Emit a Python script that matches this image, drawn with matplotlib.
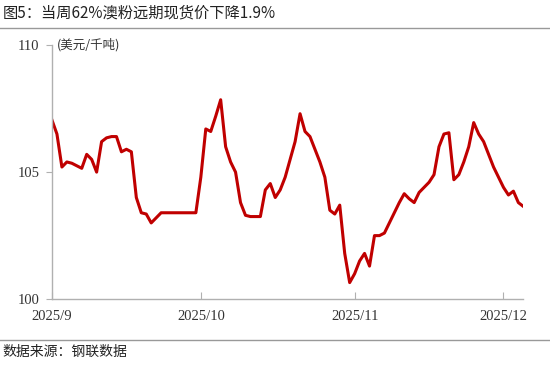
import matplotlib.pyplot as plt
import matplotlib.dates as mdates
import pandas as pd

plt.rcParams['font.family'] = ['Noto Sans CJK SC', 'DejaVu Sans']

# daily prices, USD/t
start = "2025-09-01"
prices = [
    107.05, 106.5, 105.2, 105.4, 105.35, 105.25, 105.15, 105.7, 105.5, 105.0,   # Sep 1-10
    106.2, 106.35, 106.4, 106.4, 105.8, 105.9, 105.8, 104.0, 103.4, 103.35,    # Sep 11-20
    103.0, 103.2, 103.4, 103.4, 103.4, 103.4, 103.4, 103.4, 103.4, 103.4,      # Sep 21-30
    104.8, 106.7, 106.6, 107.2, 107.85, 106.0, 105.4, 105.0, 103.8, 103.3,     # Oct 1-10
    103.25, 103.25, 103.25, 104.3, 104.55, 104.0, 104.3, 104.8, 105.5, 106.2,  # Oct 11-20
    107.3, 106.6, 106.4, 105.9, 105.4, 104.8, 103.5, 103.35, 103.7, 101.8,     # Oct 21-30
    100.65,                                                                     # Oct 31
    101.0, 101.5, 101.8, 101.3, 102.5, 102.5, 102.6, 103.0, 103.4, 103.8,      # Nov 1-10
    104.15, 103.95, 103.8, 104.2, 104.4, 104.6, 104.9, 106.0, 106.5, 106.55,   # Nov 11-20
    104.7, 104.9, 105.4, 106.0, 106.95, 106.5, 106.2, 105.7, 105.2, 104.8,     # Nov 21-30
    104.4, 104.1, 104.25, 103.8, 103.65,                                        # Dec 1-5
]
dates = pd.date_range(start, periods=len(prices), freq="D")

tick_dates = pd.to_datetime(["2025-09-01", "2025-10-01", "2025-11-01", "2025-12-01"])
tick_labels = ["2025/9", "2025/10", "2025/11", "2025/12"]
y_ticks = [100, 105, 110]

title = "图5：当周62%澳粉远期现货价下降1.9%"
unit = "(美元/千吨)"
source = "数据来源：钢联数据"

fig = plt.figure(figsize=(5.5, 3.67), dpi=100)
ax = fig.add_axes([0.0945, 0.185, 0.857, 0.692])

ax.plot(dates, prices, color="#C00000", lw=2.2, solid_joinstyle="round")

ax.set_xlim(dates[0], dates[-1])
ax.set_ylim(100, 110)
ax.set_xticks(tick_dates)
ax.set_xticklabels(tick_labels, family="Liberation Serif", fontsize=10.5)
ax.set_yticks(y_ticks)
ax.set_yticklabels([str(v) for v in y_ticks], family="Liberation Serif", fontsize=10.5)

for s in ["top", "right"]:
    ax.spines[s].set_visible(False)
for s in ["left", "bottom"]:
    ax.spines[s].set_color("#b0b0b0")
    ax.spines[s].set_linewidth(1)
ax.tick_params(axis="x", direction="in", length=5, color="#b0b0b0", pad=8, labelcolor="#333333")
ax.tick_params(axis="y", direction="out", length=4, color="#b0b0b0", pad=5, labelcolor="#333333")

ax.text(0.01, 1.0, unit, transform=ax.transAxes, fontsize=9, color="#333333", va="center", ha="left")

fig.text(0.005, 0.965, title, fontsize=11, color="#222222", va="center", ha="left")
fig.add_artist(plt.Line2D([0, 1], [0.925, 0.925], color="#999999", lw=1, transform=fig.transFigure))
fig.add_artist(plt.Line2D([0, 1], [0.073, 0.073], color="#999999", lw=1, transform=fig.transFigure))
fig.text(0.005, 0.04, source, fontsize=10, color="#222222", va="center", ha="left")

fig.savefig("out.png", dpi=100)
